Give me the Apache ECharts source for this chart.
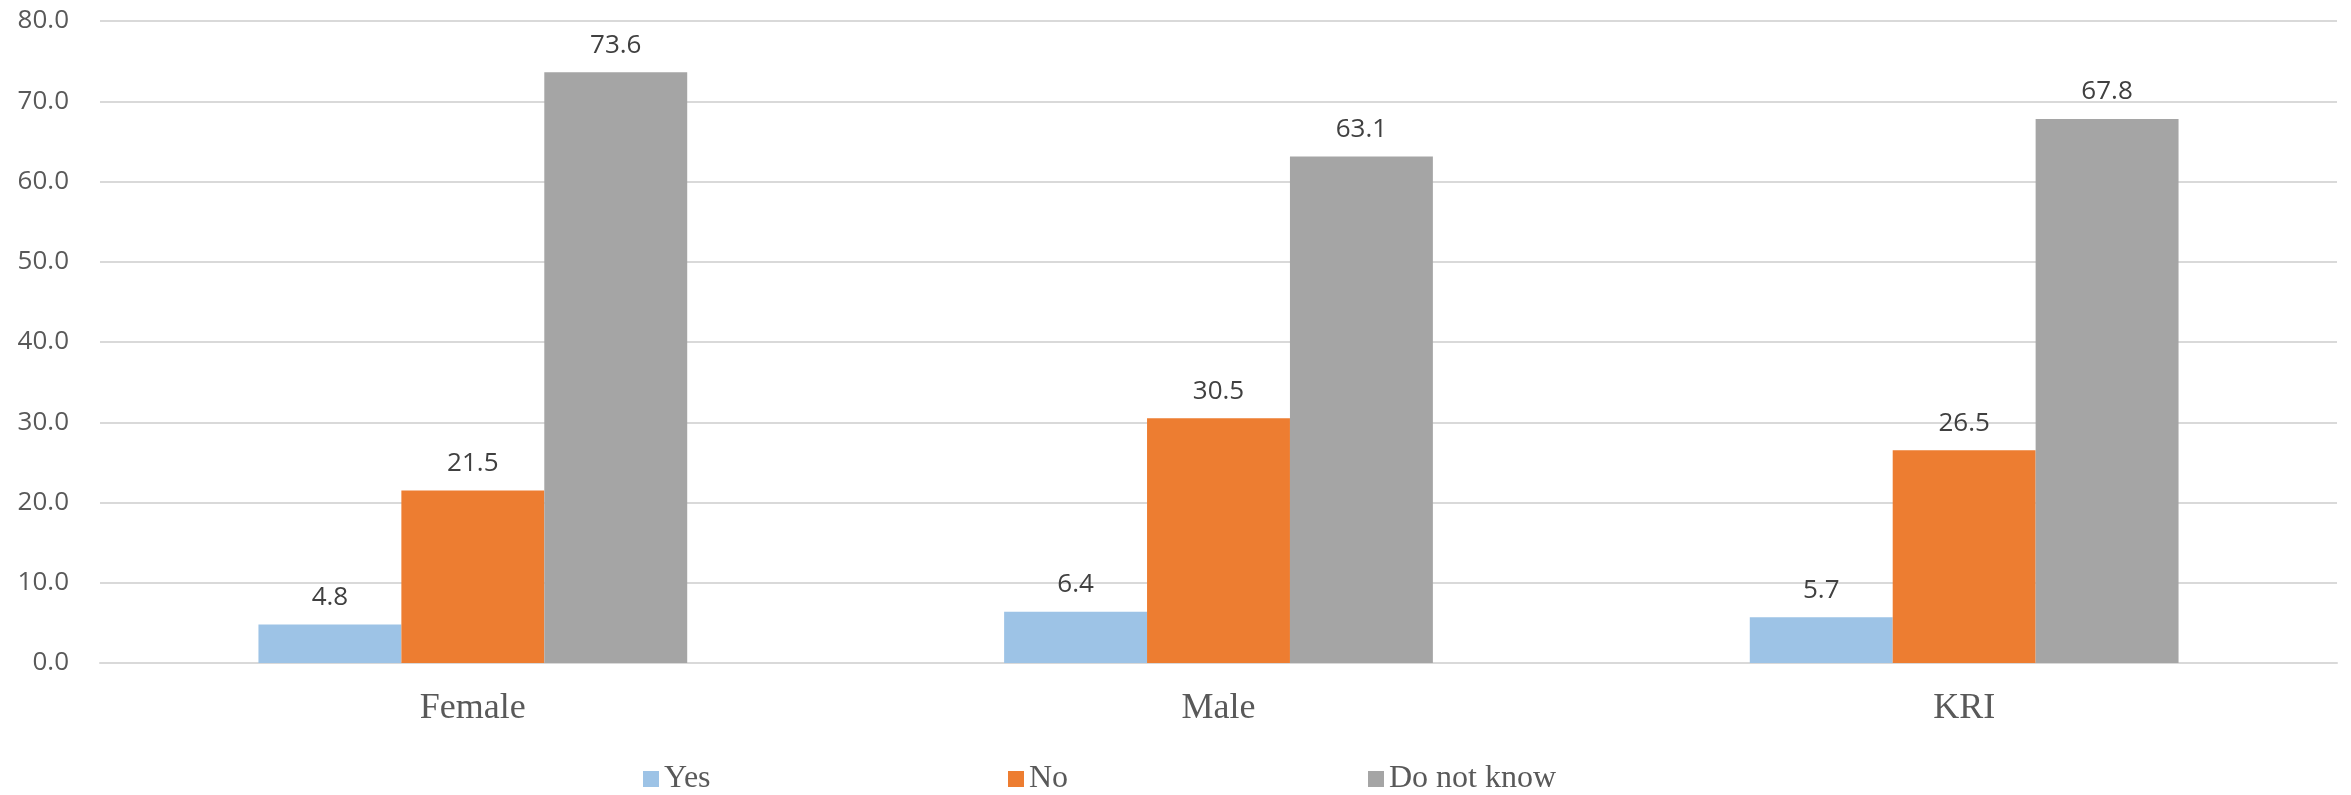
<!DOCTYPE html>
<html>
<head>
<meta charset="utf-8">
<script src="https://cdn.jsdelivr.net/npm/echarts@6/dist/echarts.min.js"></script>
<style>
html,body{margin:0;padding:0;background:#fff;}
#chart{width:2351px;height:795px;}
</style>
</head>
<body>
<div id="chart"></div>
<script>
const categories = ['Female', 'Male', 'KRI'];
const seriesNames = ['Yes', 'No', 'Do not know'];
const yesValues = [4.8, 6.4, 5.7];
const noValues = [21.5, 30.5, 26.5];
const dnkValues = [73.6, 63.1, 67.8];
const colors = ['#9DC3E6', '#ED7D31', '#A5A5A5'];
const legendLefts = [643, 1008, 1368];

const chart = echarts.init(document.getElementById('chart'));
const values = [yesValues, noValues, dnkValues];

const series = seriesNames.map((name, i) => ({
  name: name,
  type: 'bar',
  data: values[i],
  barGap: '0%',
  barCategoryGap: '42.5%',
  itemStyle: { color: colors[i] },
  label: {
    show: true,
    position: 'top',
    distance: 14,
    color: '#404040',
    fontFamily: 'Open Sans',
    fontSize: 26,
    formatter: p => p.value.toFixed(1)
  }
}));

chart.setOption({
  animation: false,
  backgroundColor: '#fff',
  grid: { left: 100, right: 14, top: 21, bottom: 132, containLabel: false },
  legend: seriesNames.map((n, i) => ({
    data: [n],
    left: legendLefts[i],
    top: 763,
    padding: 0,
    itemWidth: 16,
    itemHeight: 16,
    icon: 'rect',
    textStyle: { fontFamily: 'Liberation Serif', fontSize: 32, color: '#595959' }
  })),
  xAxis: {
    type: 'category',
    data: categories,
    axisLine: { show: true, lineStyle: { color: '#D9D9D9', width: 2 } },
    axisTick: { show: false },
    axisLabel: { fontFamily: 'Liberation Serif', fontSize: 36, color: '#595959', margin: 28 }
  },
  yAxis: {
    type: 'value',
    min: 0,
    max: 80,
    interval: 10,
    axisLine: { show: false },
    axisTick: { show: false },
    splitLine: { lineStyle: { color: '#D9D9D9', width: 2 } },
    axisLabel: { fontFamily: 'Open Sans', fontSize: 26, color: '#595959', margin: 31, formatter: v => v.toFixed(1) }
  },
  series: series
});
</script>
</body>
</html>
